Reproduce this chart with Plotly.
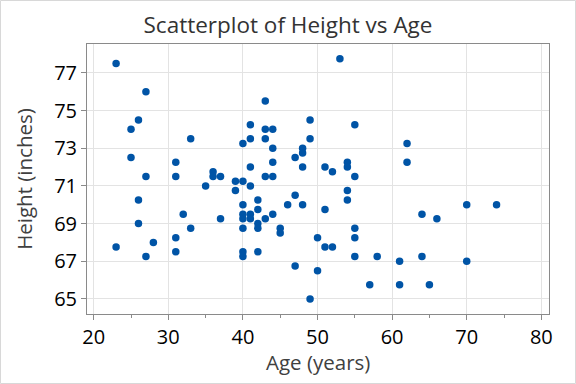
import plotly.graph_objects as go

ages = [23, 23,
        25, 25,
        26, 26, 26,
        27, 27, 27,
        28,
        31, 31, 31, 31,
        32,
        33, 33,
        35,
        36, 36,
        37, 37,
        39, 39,
        40, 40, 40, 40, 40, 40, 40, 40,
        41, 41, 41, 41, 41, 41,
        42, 42, 42, 42, 42,
        43, 43, 43, 43, 43,
        44, 44, 44, 44, 44,
        45, 45,
        46,
        47, 47, 47,
        48, 48, 48, 48,
        49, 49, 49,
        50, 50,
        51, 51, 51,
        52, 52,
        53,
        54, 54, 54, 54,
        55, 55, 55, 55, 55,
        57,
        58,
        61, 61,
        62, 62,
        64, 64,
        65,
        66,
        70, 70,
        74]

heights = [77.5, 67.75,
           74.0, 72.5,
           74.5, 70.25, 69.0,
           76.0, 71.5, 67.25,
           68.0,
           72.25, 71.5, 68.25, 67.5,
           69.5,
           73.5, 68.75,
           71.0,
           71.75, 71.5,
           71.5, 69.25,
           71.25, 70.75,
           73.25, 71.25, 70.0, 69.5, 69.25, 68.75, 67.5, 67.25,
           74.25, 73.5, 72.0, 71.0, 69.5, 69.25,
           70.25, 69.75, 69.0, 68.75, 67.5,
           75.5, 74.0, 73.5, 71.5, 69.25,
           74.0, 73.0, 72.25, 71.5, 69.5,
           68.75, 68.5,
           70.0,
           72.5, 70.5, 66.75,
           73.0, 72.75, 72.0, 70.0,
           74.5, 73.5, 65.0,
           68.25, 66.5,
           72.0, 69.75, 67.75,
           71.75, 67.75,
           77.75,
           72.25, 72.0, 70.75, 70.25,
           74.25, 71.5, 68.75, 68.25, 67.25,
           65.75,
           67.25,
           67.0, 65.75,
           73.25, 72.25,
           69.5, 67.25,
           65.75,
           69.25,
           70.0, 67.0,
           70.0]

x_ticks = [20, 30, 40, 50, 60, 70, 80]
y_ticks = [65, 67, 69, 71, 73, 75, 77]

fig = go.Figure()
fig.add_trace(go.Scatter(
    x=ages, y=heights, mode="markers",
    marker=dict(color="#0054A6", size=7.5, line=dict(width=0)),
    hoverinfo="x+y", showlegend=False,
))

font_family = "Open Sans, Noto Sans, DejaVu Sans, sans-serif"

fig.update_layout(
    width=576, height=384,
    margin=dict(l=87, r=27, t=44, b=70),
    paper_bgcolor="white", plot_bgcolor="white",
    font=dict(family=font_family),
    title=dict(text="Scatterplot of Height vs Age", x=0.5, xanchor="center",
               y=0.935, yanchor="middle",
               font=dict(size=22.5, color="#333333", family=font_family)),
    xaxis=dict(
        range=[19.1, 81.03], tickvals=x_ticks, ticktext=[str(v) for v in x_ticks],
        showgrid=True, gridcolor="#e3e3e3", gridwidth=1, automargin=False,
        zeroline=False, showline=True, linecolor="#8a8a8a", linewidth=1, mirror=True,
        ticks="outside", ticklen=5, tickcolor="#8a8a8a",
        minor=dict(tickvals=[25, 35, 45, 55, 65, 75], ticks="outside", ticklen=3,
                   tickcolor="#8a8a8a", showgrid=False),
        tickfont=dict(size=20, color="black"),
    ),
    yaxis=dict(
        range=[64.2, 78.53], tickvals=y_ticks, ticktext=[str(v) for v in y_ticks],
        showgrid=True, gridcolor="#e3e3e3", gridwidth=1, automargin=False,
        zeroline=False, showline=True, linecolor="#8a8a8a", linewidth=1, mirror=True,
        ticks="outside", ticklen=5, tickcolor="#8a8a8a",
        tickfont=dict(size=20, color="black"),
        title=dict(text="Height (inches)", font=dict(size=20.5, color="#404040")),
    ),
    annotations=[dict(text="Age (years)", xref="paper", yref="paper",
                      x=0.5, y=-0.178, xanchor="center", yanchor="middle",
                      showarrow=False,
                      font=dict(size=20.5, color="#404040", family=font_family))],
    shapes=[dict(type="rect", xref="paper", yref="paper",
                 x0=(0.5 - 87) / 462, x1=(575.5 - 87) / 462,
                 y0=(314 - 383.5) / 270, y1=(314 - 0.5) / 270,
                 line=dict(color="#d8d8d8", width=1), fillcolor="rgba(0,0,0,0)",
                 layer="below")],
)

fig.write_html("out.html", config={"displayModeBar": False},
               post_script="document.body.style.margin='0';")
